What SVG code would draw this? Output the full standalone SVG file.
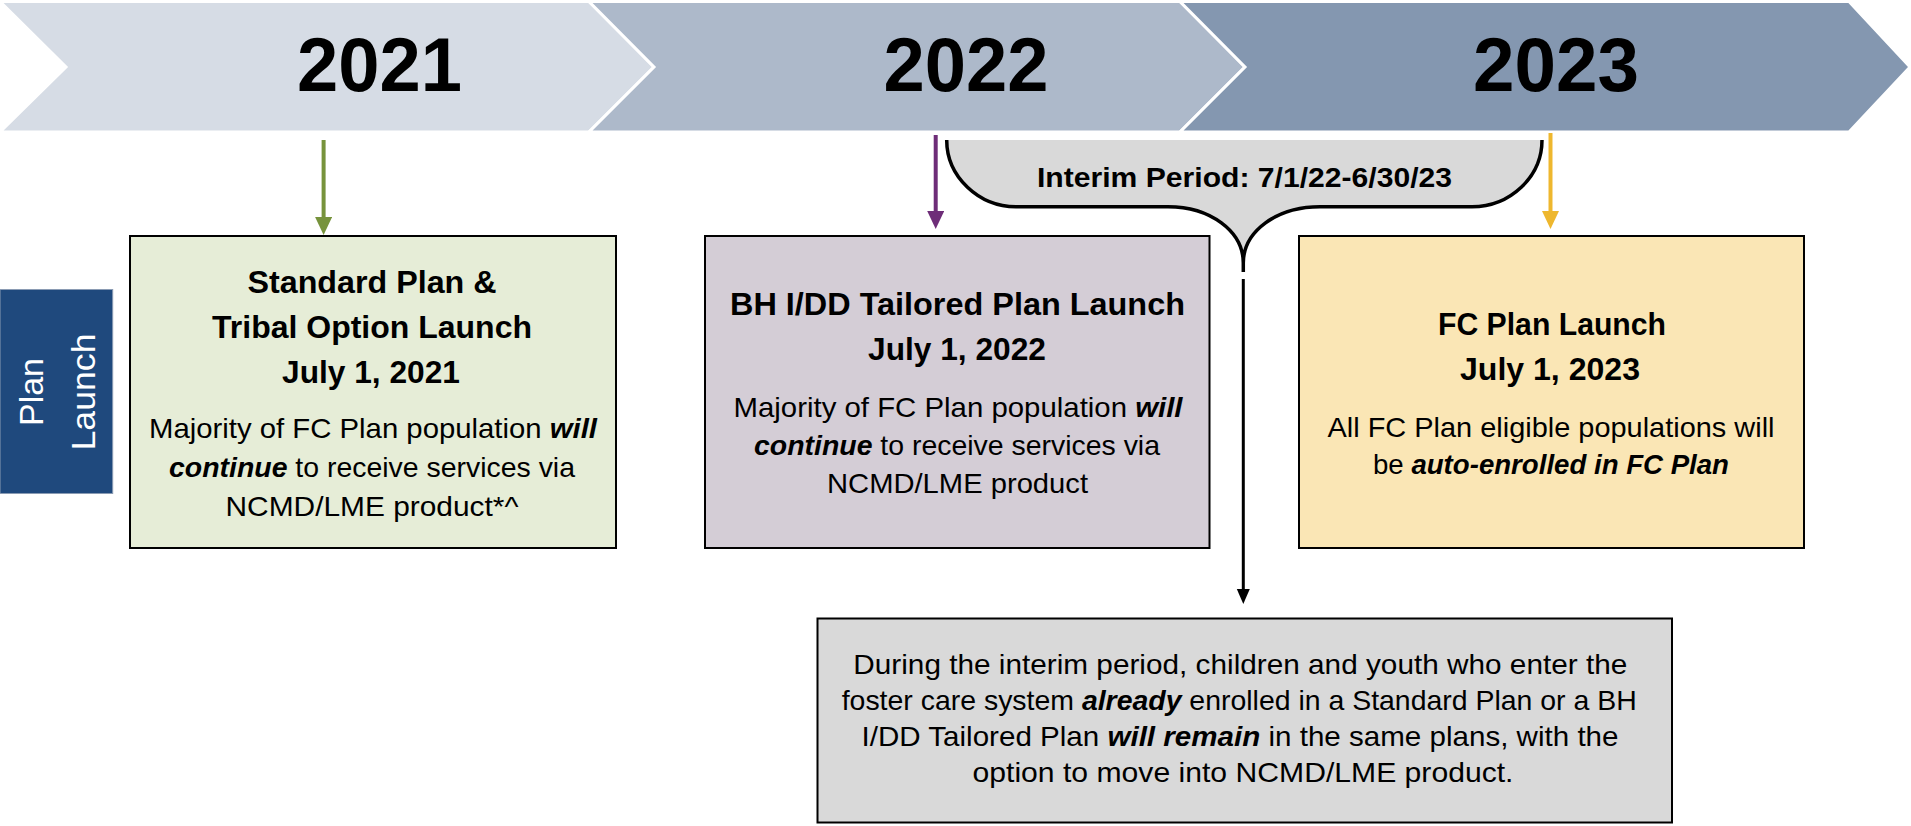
<svg xmlns="http://www.w3.org/2000/svg" width="1911" height="826" viewBox="0 0 1911 826">
  <defs>
    <style>
      text { font-family: "Liberation Sans", Arial, sans-serif; fill: #000; }
      .yr { font-size: 76px; font-weight: bold; text-anchor: middle; }
      .hd { font-size: 31px; font-weight: bold; text-anchor: middle; }
      .bd { font-size: 28px; text-anchor: middle; }
      .bi { font-weight: bold; font-style: italic; }
      .ip { font-size: 28px; font-weight: bold; text-anchor: middle; }
      .pl { font-size: 34px; fill: #fff; text-anchor: middle; }
      .box { stroke: #000; stroke-width: 2; }
      .chev { stroke: #fff; stroke-width: 3; stroke-linejoin: miter; }
    </style>
    <marker id="mGreen" markerUnits="userSpaceOnUse" markerWidth="18" markerHeight="18" refX="2" refY="8.5" orient="auto">
      <path d="M0,0 L18,8.5 L0,17 z" fill="#77933C"/>
    </marker>
    <marker id="mPurple" markerUnits="userSpaceOnUse" markerWidth="18" markerHeight="18" refX="2" refY="8.5" orient="auto">
      <path d="M0,0 L18,8.5 L0,17 z" fill="#6E2D78"/>
    </marker>
    <marker id="mYellow" markerUnits="userSpaceOnUse" markerWidth="18" markerHeight="18" refX="2" refY="8.5" orient="auto">
      <path d="M0,0 L18,8.5 L0,17 z" fill="#EEB72E"/>
    </marker>
    <marker id="mBlack" markerUnits="userSpaceOnUse" markerWidth="15" markerHeight="14" refX="2" refY="6.5" orient="auto">
      <path d="M0,0 L15,6.5 L0,13 z" fill="#000"/>
    </marker>
  </defs>

  <rect x="0" y="0" width="1911" height="826" fill="#fff"/>

  <!-- timeline chevrons -->
  <g id="chevron-2021">
    <polygon class="chev" points="0,1.5 589,1.5 654,67 589,132 0,132 66,67" fill="#D6DCE5"/>
    <text class="yr" x="379.5" y="91" textLength="165" lengthAdjust="spacingAndGlyphs">2021</text>
  </g>
  <g id="chevron-2022">
    <polygon class="chev" points="589,1.5 1180,1.5 1245,67 1180,132 589,132 654,67" fill="#ADB9CA"/>
    <text class="yr" x="966" y="91" textLength="165" lengthAdjust="spacingAndGlyphs">2022</text>
  </g>
  <g id="chevron-2023">
    <polygon class="chev" points="1180,1.5 1849,1.5 1910,67 1849,132 1180,132 1245,67" fill="#8497B0"/>
    <text class="yr" x="1556" y="91" textLength="166" lengthAdjust="spacingAndGlyphs">2023</text>
  </g>

  <!-- interim period brace -->
  <g id="interim-brace">
    <path d="M946.7,140 C946.7,177 979,206.7 1016,206.7 L1168,206.7 C1210,206.7 1243.3,231 1243.3,263 C1243.3,231 1277,206.7 1320,206.7 L1472,206.7 C1510,206.7 1542,177 1542,140 Z" fill="#D9D9D9"/>
    <path d="M946.7,140 C946.7,177 979,206.7 1016,206.7 L1168,206.7 C1210,206.7 1243.3,231 1243.3,263 L1243.3,272 M1243.3,263 C1243.3,231 1277,206.7 1320,206.7 L1472,206.7 C1510,206.7 1542,177 1542,140" fill="none" stroke="#000" stroke-width="3.5"/>
    <text class="ip" x="1244.5" y="187" textLength="415" lengthAdjust="spacingAndGlyphs">Interim Period: 7/1/22-6/30/23</text>
  </g>

  <!-- side label -->
  <g id="plan-launch-label">
    <rect x="0" y="289.5" width="112.7" height="204" fill="#1F497D" stroke="#8A9BB3" stroke-width="1"/>
    <text class="pl" transform="translate(43,392) rotate(-90)" textLength="68" lengthAdjust="spacingAndGlyphs">Plan</text>
    <text class="pl" transform="translate(95,392) rotate(-90)" textLength="117" lengthAdjust="spacingAndGlyphs">Launch</text>
  </g>

  <!-- connectors -->
  <g id="connectors" fill="none">
    <line x1="323.6" y1="140" x2="323.6" y2="219" stroke="#77933C" stroke-width="4" marker-end="url(#mGreen)"/>
    <line x1="935.7" y1="135" x2="935.7" y2="213" stroke="#6E2D78" stroke-width="4" marker-end="url(#mPurple)"/>
    <line x1="1550.5" y1="133" x2="1550.5" y2="213" stroke="#EEB72E" stroke-width="4" marker-end="url(#mYellow)"/>
    <line x1="1243.3" y1="279" x2="1243.3" y2="591" stroke="#000" stroke-width="3" marker-end="url(#mBlack)"/>
  </g>

  <!-- standard plan box -->
  <g id="standard-plan">
    <rect class="box" x="130" y="236" width="486" height="312" fill="#E6EDD7"/>
    <text class="hd" x="372" y="293" textLength="249" lengthAdjust="spacingAndGlyphs">Standard Plan &amp;</text>
    <text class="hd" x="372" y="338" textLength="320" lengthAdjust="spacingAndGlyphs">Tribal Option Launch</text>
    <text class="hd" x="371" y="383" textLength="178" lengthAdjust="spacingAndGlyphs">July 1, 2021</text>
    <text class="bd" x="373" y="438" textLength="448" lengthAdjust="spacingAndGlyphs">Majority of FC Plan population <tspan class="bi">will</tspan></text>
    <text class="bd" x="372" y="477" textLength="406" lengthAdjust="spacingAndGlyphs"><tspan class="bi">continue</tspan> to receive services via</text>
    <text class="bd" x="372" y="516" textLength="293" lengthAdjust="spacingAndGlyphs">NCMD/LME product*^</text>
  </g>

  <!-- tailored plan box -->
  <g id="tailored-plan">
    <rect class="box" x="705" y="236" width="504.5" height="312" fill="#D4CDD6"/>
    <text class="hd" x="957.5" y="315" textLength="455" lengthAdjust="spacingAndGlyphs">BH I/DD Tailored Plan Launch</text>
    <text class="hd" x="957" y="360" textLength="178" lengthAdjust="spacingAndGlyphs">July 1, 2022</text>
    <text class="bd" x="958" y="417" textLength="449" lengthAdjust="spacingAndGlyphs">Majority of FC Plan population <tspan class="bi">will</tspan></text>
    <text class="bd" x="957" y="455" textLength="406" lengthAdjust="spacingAndGlyphs"><tspan class="bi">continue</tspan> to receive services via</text>
    <text class="bd" x="957.5" y="493" textLength="261" lengthAdjust="spacingAndGlyphs">NCMD/LME product</text>
  </g>

  <!-- FC plan box -->
  <g id="fc-plan">
    <rect class="box" x="1299" y="236" width="505" height="312" fill="#FAE6B5"/>
    <text class="hd" x="1552" y="335" textLength="228" lengthAdjust="spacingAndGlyphs">FC Plan Launch</text>
    <text class="hd" x="1550" y="380" textLength="180" lengthAdjust="spacingAndGlyphs">July 1, 2023</text>
    <text class="bd" x="1551" y="437" textLength="447" lengthAdjust="spacingAndGlyphs">All FC Plan eligible populations will</text>
    <text class="bd" x="1551" y="474" textLength="356" lengthAdjust="spacingAndGlyphs">be <tspan class="bi">auto-enrolled in FC Plan</tspan></text>
  </g>

  <!-- interim period note box -->
  <g id="interim-note">
    <rect class="box" x="817.5" y="618.5" width="854.5" height="204" fill="#D9D9D9"/>
    <text class="bd" x="1240.3" y="674" textLength="774" lengthAdjust="spacingAndGlyphs">During the interim period, children and youth who enter the</text>
    <text class="bd" x="1239.2" y="710" textLength="795" lengthAdjust="spacingAndGlyphs">foster care system <tspan class="bi">already</tspan> enrolled in a Standard Plan or a BH</text>
    <text class="bd" x="1240" y="746" textLength="757" lengthAdjust="spacingAndGlyphs">I/DD Tailored Plan <tspan class="bi">will remain</tspan> in the same plans, with the</text>
    <text class="bd" x="1243" y="782" textLength="541" lengthAdjust="spacingAndGlyphs">option to move into NCMD/LME product.</text>
  </g>
</svg>
